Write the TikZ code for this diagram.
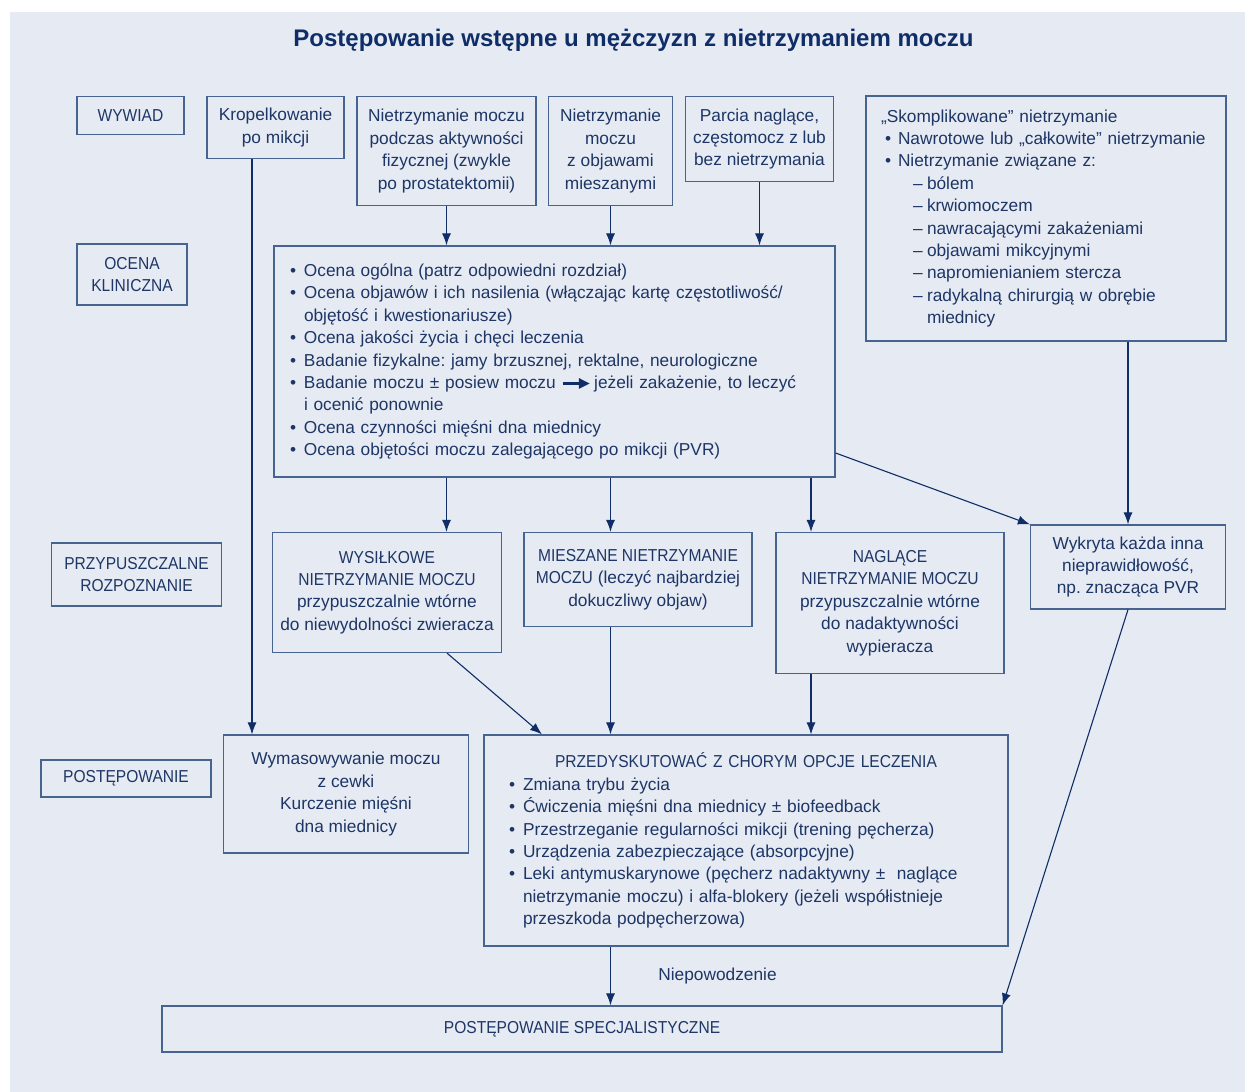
\documentclass[tikz,border=0pt]{standalone}
\usepackage{fontspec}
\setmainfont{Liberation Sans}
\newfontfamily\capsfont[FakeStretch=0.9]{Liberation Sans}
\usetikzlibrary{arrows.meta}
\definecolor{bgblue}{HTML}{E6EAF3}
\definecolor{navy}{HTML}{0F2D66}
\definecolor{boxline}{HTML}{46648F}
\definecolor{txtblue}{HTML}{1D3666}
\newcommand{\cp}[1]{{\capsfont #1}}
\newcommand{\bul}{\makebox[14pt][l]{•}}
\newcommand{\ind}{\hspace*{14pt}}
\newcommand{\dsh}{\hspace*{32pt}\makebox[14pt][l]{–}}
\frenchspacing

\begin{document}
\begin{tikzpicture}[x=1pt, y=-1pt,
        box/.style={draw=boxline, line width=1.2pt, text=txtblue, align=center,
            inner sep=2pt, font=\fontsize{17.3}{22.4}\selectfont},
        arr/.style={draw=navy, line width=1.1pt, -{Latex[length=12pt,width=9pt]}}]

    \useasboundingbox (0,0) rectangle (1245,1092);
    \fill[bgblue] (10,12) rectangle (1245,1092);

    \node[anchor=base, text=navy, font=\bfseries\fontsize{24}{28}\selectfont] (title) at (633.5,46.5)
        {Postępowanie wstępne u mężczyzn z nietrzymaniem moczu};

    \node[box, minimum width=107pt, minimum height=38pt] (wywiad) at (130.5,115.5) {\cp{WYWIAD}};
    \node[box, minimum width=137pt, minimum height=62pt] (krop) at (275.5,127.5) {Kropelkowanie\\po mikcji};
    \node[box, minimum width=179pt, minimum height=109pt] (podcz) at (446.5,151)
        {Nietrzymanie moczu\\podczas aktywności\\fizycznej (zwykle\\po prostatektomii)};
    \node[box, minimum width=124pt, minimum height=109pt] (mies) at (610.5,151)
        {Nietrzymanie\\moczu\\z objawami\\mieszanymi};
    \node[box, minimum width=148pt, minimum height=85pt] (parcia) at (759.5,139)
        {Parcia naglące,\\częstomocz z lub\\bez nietrzymania};
    \node[box, minimum width=360pt, minimum height=245pt, text width=330pt, inner xsep=15pt, align=left] (skompl) at (1046,218.5)
        {„Skomplikowane” nietrzymanie\\
        \hspace*{4pt}\makebox[13pt][l]{•}Nawrotowe lub „całkowite” nietrzymanie\\
        \hspace*{4pt}\makebox[13pt][l]{•}Nietrzymanie związane z:\\
        \dsh bólem\\
        \dsh krwiomoczem\\
        \dsh nawracającymi zakażeniami\\
        \dsh objawami mikcyjnymi\\
        \dsh napromienianiem stercza\\
        \dsh radykalną chirurgią w obrębie\\
        \hspace*{46pt}miednicy};

    \node[box, minimum width=110pt, minimum height=61pt] (ocenalbl) at (132,274.5) {\cp{OCENA}\\\cp{KLINICZNA}};
    \node[box, minimum width=561pt, minimum height=231pt, text width=529pt, inner xsep=16pt, align=left] (ocena) at (554.5,361.5)
        {\bul Ocena ogólna (patrz odpowiedni rozdział)\\
        \bul Ocena objawów i ich nasilenia (włączając kartę częstotliwość/\\
        \ind objętość i kwestionariusze)\\
        \bul Ocena jakości życia i chęci leczenia\\
        \bul Badanie fizykalne: jamy brzusznej, rektalne, neurologiczne\\
        \bul Badanie moczu ± posiew moczu \tikz[baseline=-5pt]\draw[navy, line width=2.6pt, -{Triangle[length=11pt,width=10pt]}] (0pt,0pt) -- (27pt,0pt);\hspace{3pt}jeżeli zakażenie, to leczyć\\
        \ind i ocenić ponownie\\
        \bul Ocena czynności mięśni dna miednicy\\
        \bul Ocena objętości moczu zalegającego po mikcji (PVR)};

    \node[box, minimum width=170pt, minimum height=63pt] (rozplbl) at (136.5,574.5) {\cp{PRZYPUSZCZALNE}\\\cp{ROZPOZNANIE}};
    \node[box, minimum width=229pt, minimum height=120pt] (wysil) at (387,592.5)
        {\cp{WYSIŁKOWE}\\\cp{NIETRZYMANIE MOCZU}\\przypuszczalnie wtórne\\do niewydolności zwieracza};
    \node[box, minimum width=228pt, minimum height=94pt] (miesz) at (638,579.5)
        {\cp{MIESZANE NIETRZYMANIE}\\\cp{MOCZU} (leczyć najbardziej\\dokuczliwy objaw)};
    \node[box, minimum width=228pt, minimum height=141pt] (nagl) at (890,603)
        {\cp{NAGLĄCE}\\\cp{NIETRZYMANIE MOCZU}\\przypuszczalnie wtórne\\do nadaktywności\\wypieracza};
    \node[box, minimum width=195pt, minimum height=84pt] (wykr) at (1128,567)
        {Wykryta każda inna\\nieprawidłowość,\\np. znacząca PVR};

    \node[box, minimum width=170pt, minimum height=37pt] (postlbl) at (126,778.5) {\cp{POSTĘPOWANIE}};
    \node[box, minimum width=245pt, minimum height=118pt] (wymas) at (346,794)
        {Wymasowywanie moczu\\z cewki\\Kurczenie mięśni\\dna miednicy};
    \node[box, minimum width=524pt, minimum height=211pt, text width=474pt, inner xsep=25pt, align=left] (przed) at (746,840.5)
        {\makebox[474pt]{\cp{PRZEDYSKUTOWAĆ Z CHORYM OPCJE LECZENIA}}\\
        \bul Zmiana trybu życia\\
        \bul Ćwiczenia mięśni dna miednicy ± biofeedback\\
        \bul Przestrzeganie regularności mikcji (trening pęcherza)\\
        \bul Urządzenia zabezpieczające (absorpcyjne)\\
        \bul Leki antymuskarynowe (pęcherz nadaktywny ±\ \ naglące\\
        \ind nietrzymanie moczu) i alfa-blokery (jeżeli współistnieje\\
        \ind przeszkoda podpęcherzowa)};

    \node[box, minimum width=840pt, minimum height=46pt] (spec) at (582,1029) {\cp{POSTĘPOWANIE SPECJALISTYCZNE}};

    \draw[arr] ([xshift=-23.5pt]krop.south) -- ([xshift=-23.5pt]krop.south |- wymas.north);
    \draw[arr] (podcz.south) -- (podcz.south |- ocena.north);
    \draw[arr] (mies.south) -- (mies.south |- ocena.north);
    \draw[arr] (parcia.south) -- (parcia.south |- ocena.north);
    \draw[arr] (skompl.south -| wykr.north) -- (wykr.north);
    \draw[arr] (podcz.south |- ocena.south) -- (podcz.south |- wysil.north);
    \draw[arr] (mies.south |- ocena.south) -- (mies.south |- miesz.north);
    \draw[arr] ([xshift=-79pt]nagl.north |- ocena.south) -- ([xshift=-79pt]nagl.north);
    \draw[arr] ([yshift=-91.5pt]ocena.east) -- (wykr.north west);
    \draw[arr] ([xshift=60pt]wysil.south) -- ([xshift=-204pt]przed.north);
    \draw[arr] (mies.south |- miesz.south) -- (mies.south |- przed.north);
    \draw[arr] ([xshift=-79pt]nagl.south) -- ([xshift=-79pt]nagl.south |- przed.north);
    \draw[arr] (mies.south |- przed.south) -- node[right=44pt, text=txtblue, font=\fontsize{17.3}{22.4}\selectfont] (fail) {Niepowodzenie} (mies.south |- spec.north);
    \draw[arr] (wykr.south) -- (spec.north east);
\end{tikzpicture}
\end{document}
